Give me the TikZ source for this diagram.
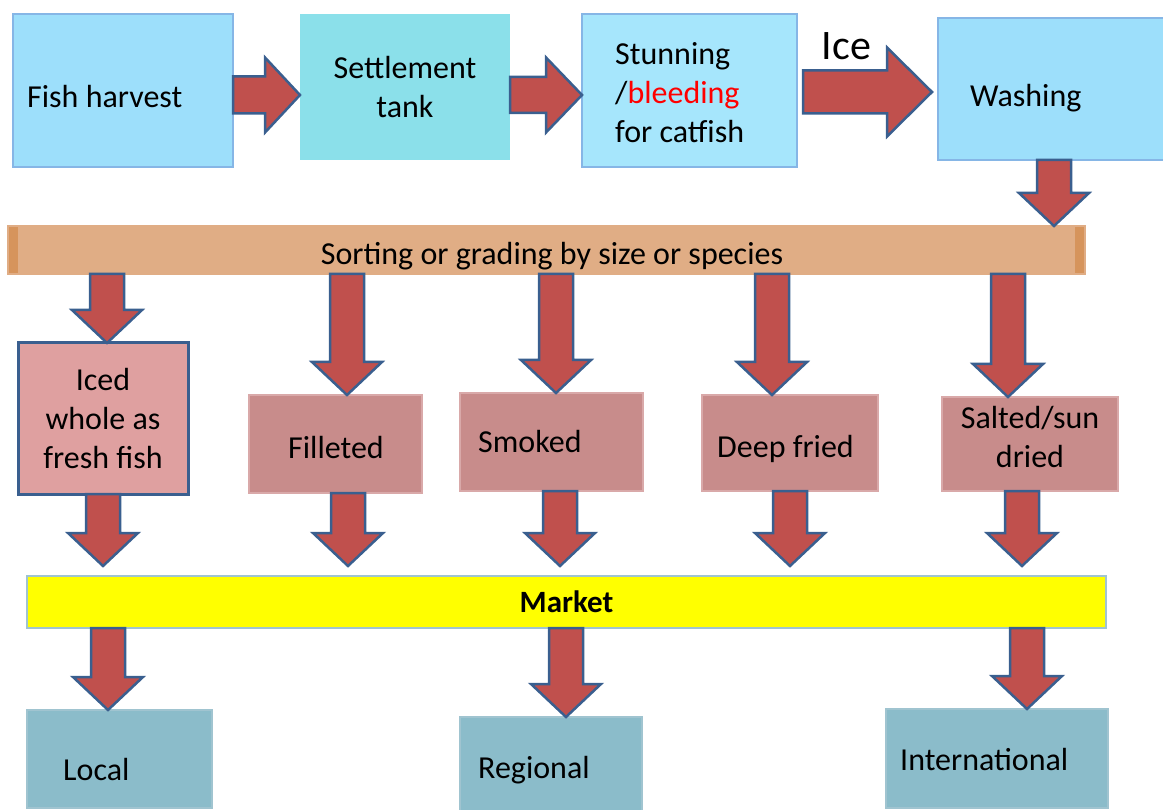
\documentclass[tikz,border=0pt]{standalone}
\usepackage{fontspec}
\setmainfont{Carlito}
\usepackage{tikz}
\usetikzlibrary{calc}
\definecolor{skyfill}{HTML}{9DDFFB}
\definecolor{skyline}{HTML}{86B6E6}
\definecolor{tankfill}{HTML}{8BE0EA}
\definecolor{stunfill}{HTML}{A6E6FC}
\definecolor{sortfill}{HTML}{E0AD85}
\definecolor{sortedge}{HTML}{D6945C}
\definecolor{icedfill}{HTML}{DFA0A0}
\definecolor{procfill}{HTML}{C88C8B}
\definecolor{procline}{HTML}{D9A9A9}
\definecolor{marketfill}{HTML}{FFFF00}
\definecolor{tealfill}{HTML}{8BBCCA}
\definecolor{tealline}{HTML}{A0C4D0}
\definecolor{arrowred}{HTML}{C0504D}
\definecolor{arrowblue}{HTML}{3A5F8F}
\definecolor{bleedred}{HTML}{FF0000}

% x, from node, to node, gap at the tip
\newcommand{\vblock}[4]{%
  \draw[blockarrow] let \p1=(#2.south), \p2=(#3.north) in
    ({(#1-17)*1pt},\y1) -- ({(#1+17)*1pt},\y1)
    -- ({(#1+17)*1pt},\y2+#4pt+33pt) -- ({(#1+35)*1pt},\y2+#4pt+33pt)
    -- ({#1*1pt},\y2+#4pt) -- ({(#1-35)*1pt},\y2+#4pt+33pt)
    -- ({(#1-17)*1pt},\y2+#4pt+33pt) -- cycle;}
% y, from node, to node, shaft half, head half, head length, gap
\newcommand{\hblock}[7]{%
  \draw[blockarrow] let \p1=(#2.east), \p2=(#3.west) in
    (\x1+#7pt,{(#4-#1)*1pt}) -- (\x2-#7pt-#6pt,{(#4-#1)*1pt})
    -- (\x2-#7pt-#6pt,{(#5-#1)*1pt}) -- (\x2-#7pt,{-#1*1pt})
    -- (\x2-#7pt-#6pt,{(-#5-#1)*1pt}) -- (\x2-#7pt-#6pt,{(-#4-#1)*1pt})
    -- (\x1+#7pt,{(-#4-#1)*1pt}) -- cycle;}

\begin{document}
\begin{tikzpicture}[x=1pt, y=-1pt,
    box/.style={rectangle, inner sep=0, outer sep=0, line width=1.5pt},
    txt/.style={inner sep=0, font=\fontsize{32}{39}\selectfont},
    blockarrow/.style={fill=arrowred, draw=arrowblue, line width=2.5pt, line join=miter},
    sortbar/.style={box, fill=sortfill, draw=sortfill,
      path picture={
        \fill[sortedge] (path picture bounding box.north west) rectangle ([xshift=10pt]path picture bounding box.south west);
        \fill[sortedge] ([xshift=-10pt]path picture bounding box.north east) rectangle (path picture bounding box.south east);}},
]
\useasboundingbox (0,0) rectangle (1163,810);

\node[box, fill=skyfill, draw=skyline, minimum width=220, minimum height=153] (fish) at (123,90.5) {};
\node[box, txt, fill=tankfill, minimum width=210, minimum height=146, align=center] (settle) at (405,87) {Settlement\\tank};
\node[box, fill=stunfill, draw=skyline, minimum width=215, minimum height=153] (stun) at (689.5,90.5) {};
\node[box, fill=skyfill, draw=skyline, minimum width=237, minimum height=142] (wash) at (1056.5,89) {};

\node[sortbar, minimum width=1077, minimum height=48] (sort) at (546.5,250) {};

\node[box, txt, fill=icedfill, draw=arrowblue, line width=3pt, minimum width=170, minimum height=151, align=center] (iced) at (103,418.5) {Iced\\whole as\\fresh fish};
\node[box, fill=procfill, draw=procline, minimum width=173, minimum height=98] (fill) at (335.5,444) {};
\node[box, fill=procfill, draw=procline, minimum width=183, minimum height=98] (smoked) at (551.5,442) {};
\node[box, fill=procfill, draw=procline, minimum width=176, minimum height=96] (deep) at (790,443) {};
\node[box, fill=procfill, draw=procline, minimum width=176, minimum height=94] (salted) at (1030,444) {};

\node[box, fill=marketfill, draw=tealline, minimum width=1079, minimum height=52, font=\fontsize{31}{37}\selectfont\bfseries] (market) at (566.5,602) {Market};

\node[box, fill=tealfill, draw=tealline, minimum width=185, minimum height=98] (local) at (119.5,759) {};
\node[box, fill=tealfill, draw=tealline, minimum width=182, minimum height=98] (regional) at (551,766) {};
\node[box, fill=tealfill, draw=tealline, minimum width=222, minimum height=99] (intl) at (997,758.5) {};

\node[txt, anchor=base west] (fishlbl) at (27,108) {Fish harvest};
\node[txt, anchor=west, align=left] (stunlbl) at (615,93) {Stunning\\/\textcolor{bleedred}{bleeding}\\for catfish};
\node[txt, anchor=base west] (washlbl) at (970,107) {Washing};
\node[txt, anchor=base] (sortlbl) at (552,265) {Sorting or grading by size or species};
\node[txt, anchor=base] (fillbl) at (336,458) {Filleted};
\node[txt, anchor=base west] (smokedlbl) at (478,453) {Smoked};
\node[txt, anchor=base] (deeplbl) at (785.5,457) {Deep fried};
\node[txt, align=center] (saltedlbl) at (1030,437) {Salted/sun\\dried};
\node[txt, anchor=base west] (locallbl) at (63,780) {Local};
\node[txt, anchor=base west] (regionallbl) at (478,778) {Regional};
\node[txt, anchor=base west] (intllbl) at (900,770) {International};

\hblock{95}{fish}{settle}{18.5}{37.5}{35}{0}
\hblock{95}{settle}{stun}{18}{37.5}{36}{0}
\hblock{92}{stun}{wash}{21.5}{44.5}{45}{6}
\node[inner sep=0, font=\fontsize{42}{50}\selectfont, anchor=base] (ice) at (846.5,60) {Ice};

\vblock{1054}{wash}{sort}{0}
\vblock{107}{sort}{iced}{0}
\vblock{347}{sort}{fill}{0}
\vblock{556}{sort}{smoked}{0}
\vblock{772}{sort}{deep}{0}
\vblock{1008}{sort}{salted}{0}

\vblock{103}{iced}{market}{10}
\vblock{348}{fill}{market}{10}
\vblock{560}{smoked}{market}{10}
\vblock{790}{deep}{market}{10}
\vblock{1022}{salted}{market}{10}

\vblock{108}{market}{local}{0}
\vblock{566}{market}{regional}{0}
\vblock{1027}{market}{intl}{0}

\end{tikzpicture}
\end{document}
